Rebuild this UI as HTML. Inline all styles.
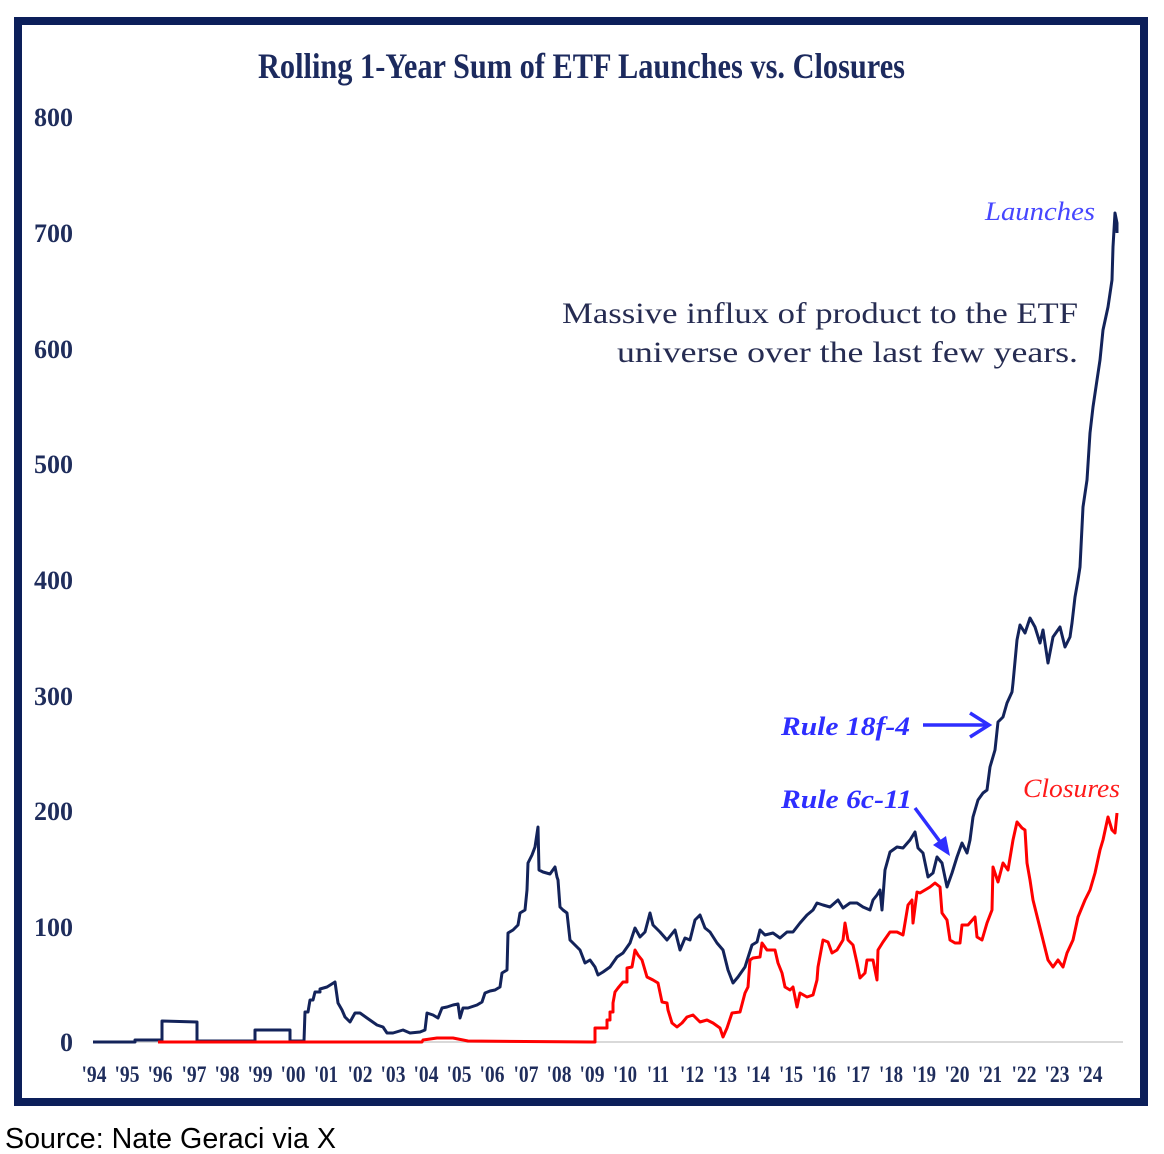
<!DOCTYPE html>
<html>
<head>
<meta charset="utf-8">
<style>
  html, body { margin:0; padding:0; background:#ffffff; }
  body { width:1164px; height:1154px; overflow:hidden; }
  svg { display:block; }
</style>
</head>
<body>
<svg width="1164" height="1154" viewBox="0 0 1164 1154" xmlns="http://www.w3.org/2000/svg">
  <rect x="0" y="0" width="1164" height="1154" fill="#ffffff"/>
  <!-- frame -->
  <rect x="18" y="21" width="1126" height="1081" fill="none" stroke="#0c1f5a" stroke-width="8"/>

  <!-- title -->
  <text x="258" y="78" font-family="'Liberation Serif', serif" font-weight="bold" font-size="36" fill="#1c2a5e" textLength="647" lengthAdjust="spacingAndGlyphs">Rolling 1-Year Sum of ETF Launches vs. Closures</text>

  <!-- y axis labels -->
  <g font-family="'Liberation Serif', serif" font-weight="bold" font-size="26" fill="#1f2d5c" text-anchor="end">
    <text x="73" y="126">800</text>
    <text x="73" y="242">700</text>
    <text x="73" y="358">600</text>
    <text x="73" y="473">500</text>
    <text x="73" y="589">400</text>
    <text x="73" y="705">300</text>
    <text x="73" y="820">200</text>
    <text x="73" y="936">100</text>
    <text x="73" y="1051">0</text>
  </g>

  <!-- baseline gridline -->
  <line x1="93" y1="1042" x2="1123" y2="1042" stroke="#d9d9d9" stroke-width="2"/>

  <!-- x axis labels -->
  <g font-family="'Liberation Serif', serif" font-weight="bold" font-size="23" fill="#1f2d5c" text-anchor="middle">
    <text x="94" y="1082" textLength="25" lengthAdjust="spacingAndGlyphs">'94</text>
    <text x="127" y="1082" textLength="25" lengthAdjust="spacingAndGlyphs">'95</text>
    <text x="160" y="1082" textLength="25" lengthAdjust="spacingAndGlyphs">'96</text>
    <text x="194" y="1082" textLength="25" lengthAdjust="spacingAndGlyphs">'97</text>
    <text x="227" y="1082" textLength="25" lengthAdjust="spacingAndGlyphs">'98</text>
    <text x="260" y="1082" textLength="25" lengthAdjust="spacingAndGlyphs">'99</text>
    <text x="293" y="1082" textLength="25" lengthAdjust="spacingAndGlyphs">'00</text>
    <text x="326" y="1082" textLength="24" lengthAdjust="spacingAndGlyphs">'01</text>
    <text x="360" y="1082" textLength="25" lengthAdjust="spacingAndGlyphs">'02</text>
    <text x="393" y="1082" textLength="25" lengthAdjust="spacingAndGlyphs">'03</text>
    <text x="426" y="1082" textLength="25" lengthAdjust="spacingAndGlyphs">'04</text>
    <text x="459" y="1082" textLength="25" lengthAdjust="spacingAndGlyphs">'05</text>
    <text x="492" y="1082" textLength="25" lengthAdjust="spacingAndGlyphs">'06</text>
    <text x="526" y="1082" textLength="25" lengthAdjust="spacingAndGlyphs">'07</text>
    <text x="559" y="1082" textLength="25" lengthAdjust="spacingAndGlyphs">'08</text>
    <text x="592" y="1082" textLength="25" lengthAdjust="spacingAndGlyphs">'09</text>
    <text x="625" y="1082" textLength="24" lengthAdjust="spacingAndGlyphs">'10</text>
    <text x="658" y="1082" textLength="22" lengthAdjust="spacingAndGlyphs">'11</text>
    <text x="692" y="1082" textLength="24" lengthAdjust="spacingAndGlyphs">'12</text>
    <text x="725" y="1082" textLength="24" lengthAdjust="spacingAndGlyphs">'13</text>
    <text x="758" y="1082" textLength="24" lengthAdjust="spacingAndGlyphs">'14</text>
    <text x="791" y="1082" textLength="24" lengthAdjust="spacingAndGlyphs">'15</text>
    <text x="824" y="1082" textLength="24" lengthAdjust="spacingAndGlyphs">'16</text>
    <text x="858" y="1082" textLength="24" lengthAdjust="spacingAndGlyphs">'17</text>
    <text x="891" y="1082" textLength="24" lengthAdjust="spacingAndGlyphs">'18</text>
    <text x="924" y="1082" textLength="24" lengthAdjust="spacingAndGlyphs">'19</text>
    <text x="957" y="1082" textLength="25" lengthAdjust="spacingAndGlyphs">'20</text>
    <text x="990" y="1082" textLength="24" lengthAdjust="spacingAndGlyphs">'21</text>
    <text x="1024" y="1082" textLength="25" lengthAdjust="spacingAndGlyphs">'22</text>
    <text x="1057" y="1082" textLength="25" lengthAdjust="spacingAndGlyphs">'23</text>
    <text x="1090" y="1082" textLength="25" lengthAdjust="spacingAndGlyphs">'24</text>
  </g>

  <!-- Launches series -->
  <polyline fill="none" stroke="#13235a" stroke-width="3" stroke-linejoin="round" points="
93,1042 135,1042 135,1040 162,1040 162,1021 197,1022 197,1041 255,1041 255,1030 290,1030 290,1041 302,1041
304,1041 305,1012 308,1012 310,1000 313,1000 315,992 320,992 320,989 327,987 335,982 338,1003 342,1010 345,1017 350,1022 355,1013 360,1013
367,1018 377,1025 383,1027 387,1033 393,1033 403,1030 410,1033 420,1032 425,1030 427,1013 433,1015 438,1018
442,1008 447,1007 453,1005 458,1004 460,1018 463,1008 468,1008 477,1005 482,1002 485,993 490,991 495,990
500,987 502,973 507,970 508,933 513,930 518,925 520,913 525,910 527,890 528,863 532,855 535,847 538,827
539,870 543,872 550,874 555,867 557,877 558,880 560,907 563,910 567,913 570,940 575,945 580,950 585,963
590,960 595,967 598,975 603,972 610,967 617,957 623,953 630,943 635,928 640,937 645,932 650,913 653,925
660,932 667,940 675,930 680,950 685,938 690,940 695,920 700,915 705,928 710,932 717,943 723,950 728,970
733,983 738,977 745,967 752,945 757,942 760,930 765,935 773,933 780,938 787,932 793,932 800,923 807,915
813,910 817,903 823,905 830,907 838,900 843,908 850,903 857,903 863,907 870,910 873,900 877,895 880,890
882,910 885,870 890,852 897,847 903,848 910,840 915,832 918,848 923,853 928,877 933,873 937,857 942,863
947,887 952,873 957,857 962,843 967,853 970,840 973,817 978,800 983,793 987,790 990,767 995,750 998,722
1003,717 1007,703 1012,692 1013,683 1017,640 1020,625 1025,633 1030,618 1035,627 1040,643 1043,630
1048,663 1053,637 1060,627 1065,647 1070,637 1072,623 1075,597 1078,580 1080,567 1083,507 1087,480
1090,433 1093,407 1097,380 1100,360 1103,330 1108,307 1112,280 1113,247 1115,213 1117,223 1117,233"/>

  <!-- Closures series -->
  <polyline fill="none" stroke="#ff0000" stroke-width="3" stroke-linejoin="round" points="
158,1042 422,1042 423,1040 437,1038 453,1038 468,1041 593,1042 595,1042 595,1028 603,1028 607,1028 607,1020 610,1020 610,1012 613,1012 613,1003
615,992 618,988 623,982 627,982 627,968 632,967 635,950 638,955 642,960 647,977 653,980 658,983 662,1002 667,1003
668,1010 672,1023 677,1027 682,1023 687,1017 693,1015 700,1022 707,1020 713,1023 720,1028 723,1037 727,1028
732,1013 740,1012 745,993 748,987 750,960 753,958 760,957 762,943 767,950 775,950 778,963 782,973 785,987
790,990 793,987 797,1007 800,993 807,997 813,995 817,980 818,967 823,940 828,942 832,953 837,950 843,940
845,923 848,940 853,945 857,963 860,978 865,973 867,960 873,960 877,980 878,950 883,942 890,932 897,932
903,935 908,905 912,900 913,923 917,892 920,893 925,890 930,887 935,883 940,887 942,913 947,920 950,940
955,943 960,943 962,925 968,925 975,917 977,937 982,940 987,923 992,910 993,867 998,882 1003,863 1008,870
1013,840 1017,822 1022,828 1025,830 1027,863 1030,880 1033,900 1038,920 1043,940 1048,960 1053,967 1058,960
1063,967 1067,953 1073,940 1078,917 1085,900 1090,890 1095,873 1100,850 1103,840 1108,817 1112,830 1115,833 1117,813"/>

  <!-- annotation text -->
  <g font-family="'Liberation Serif', serif" font-size="30" fill="#262c52">
    <text x="562" y="323" textLength="516" lengthAdjust="spacingAndGlyphs">Massive influx of product to the ETF</text>
    <text x="617" y="362" textLength="461" lengthAdjust="spacingAndGlyphs">universe over the last few years.</text>
  </g>

  <!-- series labels -->
  <text x="985" y="220" font-family="'Liberation Serif', serif" font-style="italic" font-size="26" fill="#4646ff" textLength="110" lengthAdjust="spacingAndGlyphs">Launches</text>
  <text x="1023" y="797" font-family="'Liberation Serif', serif" font-style="italic" font-size="26" fill="#ff1a1a" textLength="97" lengthAdjust="spacingAndGlyphs">Closures</text>

  <!-- Rule annotations -->
  <g font-family="'Liberation Serif', serif" font-style="italic" font-weight="bold" font-size="26" fill="#2e2eff">
    <text x="781" y="735" textLength="129" lengthAdjust="spacingAndGlyphs">Rule 18f-4</text>
    <text x="781" y="808" textLength="131" lengthAdjust="spacingAndGlyphs">Rule 6c-11</text>
  </g>
  <!-- 18f-4 arrow -->
  <line x1="923" y1="725" x2="988" y2="725" stroke="#2e2eff" stroke-width="3.5"/>
  <polyline points="970,713 989,725 970,737" fill="none" stroke="#2e2eff" stroke-width="3.5" stroke-linejoin="miter"/>
  <!-- 6c-11 arrow -->
  <line x1="915" y1="808" x2="941" y2="843" stroke="#2e2eff" stroke-width="3.5"/>
  <polygon points="950,856 933,845 946,836" fill="#2e2eff"/>

  <!-- source -->
  <text x="5" y="1148" font-family="'Liberation Sans', Arial, sans-serif" font-size="28.5" fill="#000000" textLength="331" lengthAdjust="spacingAndGlyphs">Source: Nate Geraci via X</text>
</svg>
</body>
</html>
